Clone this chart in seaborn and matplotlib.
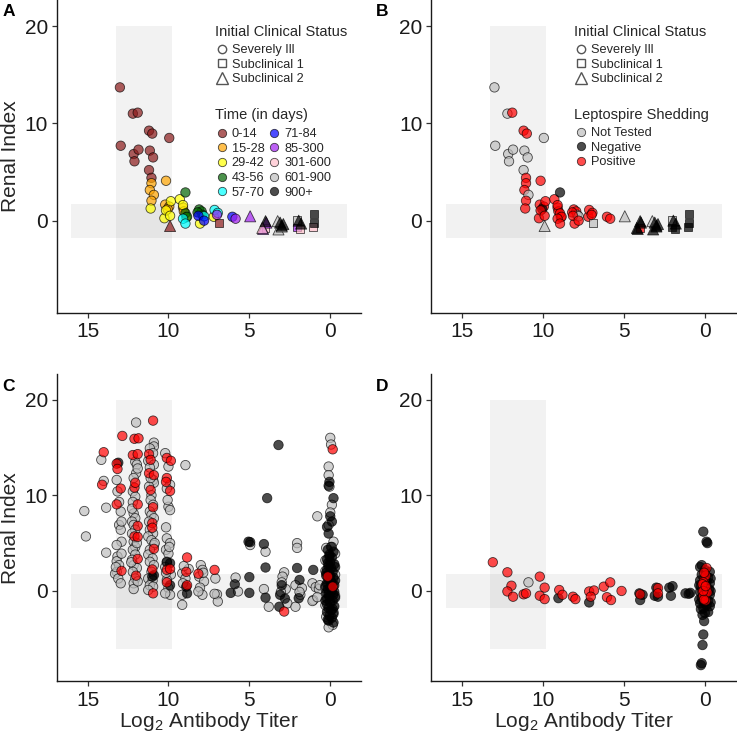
import matplotlib
matplotlib.use("Agg")
import pandas as pd
import matplotlib.pyplot as plt
import seaborn as sns
from matplotlib.lines import Line2D

# ── Categories ───────────────────────────────────────────────
status_levels = ["Severely Ill", "Subclinical 1", "Subclinical 2"]
time_levels = ["0-14", "15-28", "29-42", "43-56", "57-70",
               "71-84", "85-300", "301-600", "601-900", "900+"]
time_colors = ["#8B1A1A", "#FFA500", "#FFFF00", "#006400", "#00FFFF",
               "#0000FF", "#A020F0", "#FFC0CB", "#BEBEBE", "#000000"]
shed_levels = ["Not Tested", "Negative", "Positive"]
shed_colors = ["#BEBEBE", "#000000", "#FF0000"]

SI, S1, S2 = status_levels
NT, NEG, POS = shed_levels

# shaded reference bands (log2 titer range, renal index range)
vband_x = (13.25, 9.8)
vband_y = (-6.05, 20.0)
hband_x = (16.0, -1.05)
hband_y = (-1.75, 1.75)

# ── Panels A & B: (log2 titer, renal index, status, time, shedding) ──
ab_points = [
    (13.0, 13.7, SI, "0-14", NT), (12.95, 7.7, SI, "0-14", NT),
    (12.2, 11.0, SI, "0-14", NT), (11.9, 11.1, SI, "0-14", POS),
    (12.15, 6.85, SI, "0-14", NT), (12.1, 6.1, SI, "0-14", NT),
    (11.85, 7.3, SI, "0-14", NT), (11.2, 9.25, SI, "0-14", POS),
    (11.0, 8.95, SI, "0-14", POS), (11.15, 7.2, SI, "0-14", NT),
    (10.95, 6.5, SI, "0-14", NT), (11.2, 5.2, SI, "0-14", NT),
    (11.05, 4.4, SI, "0-14", POS), (9.95, 8.5, SI, "0-14", NT),
    (9.9, -0.55, S2, "0-14", NT), (6.9, -0.2, S1, "0-14", NT),
    (10.15, 4.1, SI, "15-28", POS), (11.05, 3.85, SI, "15-28", POS),
    (11.15, 3.15, SI, "15-28", POS), (10.9, 2.65, SI, "15-28", NT),
    (11.05, 2.05, SI, "15-28", POS), (10.2, 1.65, SI, "15-28", POS),
    (9.95, 1.45, SI, "15-28", POS), (10.05, 1.2, SI, "15-28", NEG),
    (9.1, 1.35, SI, "15-28", POS), (9.05, 0.95, SI, "15-28", POS),
    (11.1, 1.25, SI, "29-42", POS), (10.25, 0.25, SI, "29-42", POS),
    (9.85, 2.0, SI, "29-42", POS), (10.15, 1.05, SI, "29-42", POS),
    (9.9, 0.5, SI, "29-42", POS), (9.3, 2.2, SI, "29-42", POS),
    (9.1, 1.6, SI, "29-42", POS), (8.05, -0.3, SI, "29-42", POS),
    (7.2, 0.4, SI, "29-42", POS), (8.9, 0.35, SI, "29-42", POS),
    (8.95, 2.9, SI, "43-56", NEG), (8.95, 0.75, SI, "43-56", POS),
    (8.1, 1.15, SI, "43-56", POS), (7.95, 0.95, SI, "43-56", POS),
    (7.9, 0.6, SI, "43-56", NT), (8.2, 0.85, SI, "43-56", POS),
    (8.85, 0.4, SI, "43-56", POS),
    (9.1, 0.2, SI, "57-70", POS), (8.95, -0.3, SI, "57-70", POS),
    (7.15, 1.1, SI, "57-70", POS), (6.95, 0.8, SI, "57-70", POS),
    (7.8, 0.45, SI, "57-70", NT),
    (8.15, 0.5, SI, "71-84", POS), (7.8, 0.0, SI, "71-84", POS),
    (6.05, 0.4, SI, "71-84", POS),
    (5.85, 0.2, SI, "85-300", POS), (7.0, 0.6, SI, "85-300", POS),
    (4.95, 0.45, S2, "85-300", NT), (3.95, -0.2, S2, "85-300", NEG),
    (4.15, -0.85, S2, "85-300", NEG), (2.05, -0.7, S1, "85-300", NEG),
    (4.2, -0.75, S2, "301-600", NEG), (4.0, -0.75, S1, "301-600", POS),
    (1.85, -0.9, S1, "301-600", NEG), (1.05, -0.65, S1, "301-600", NEG),
    (3.2, -0.9, S2, "601-900", NEG), (3.0, -0.6, S2, "601-900", NEG),
    (2.05, 0.05, S1, "601-900", NT), (3.25, -0.05, S2, "601-900", NT),
    (3.1, -0.2, S2, "900+", NEG), (2.9, -0.35, S2, "900+", NEG),
    (1.95, 0.0, S2, "900+", NEG), (1.8, -0.3, S2, "900+", NEG),
    (1.0, 0.7, S1, "900+", NEG), (1.0, -0.2, S1, "900+", NEG),
    (3.0, -0.5, S2, "900+", NEG), (4.0, -0.05, S2, "900+", NEG),
]

# ── Panel C: (log2 titer, renal index) by shedding result ────
c_not_tested = [
    (15.2, 8.35), (15.1, 5.7),
    (14.15, 13.7), (14.0, 11.5), (13.85, 8.7), (13.85, 4.0),
    (13.2, 11.6), (13.15, 10.4), (12.95, 8.3), (13.05, 6.9), (12.95, 6.4),
    (12.9, 5.15), (13.2, 4.8), (13.15, 3.6), (13.2, 3.1), (13.05, 2.7),
    (13.2, 2.0), (13.3, 1.8), (13.1, 1.3), (12.95, 0.8), (12.9, 7.25),
    (13.05, 9.3), (13.25, 2.5), (12.9, 3.9),
    (12.0, 17.6), (12.05, 13.5), (11.95, 13.2), (12.0, 12.3), (12.15, 11.8),
    (12.2, 10.4), (12.05, 9.85), (12.2, 9.3), (12.15, 8.1), (12.05, 7.6),
    (12.25, 7.25), (12.15, 6.9), (12.05, 6.4), (12.25, 6.0), (12.15, 5.15),
    (12.05, 4.6), (12.2, 4.3), (12.05, 3.8), (12.25, 3.25), (12.15, 2.7),
    (11.95, 2.4), (12.2, 2.0), (12.05, 1.3), (12.15, 0.8), (12.15, 0.2),
    (11.9, 12.8), (12.25, 8.6), (11.95, 5.0), (12.3, 3.0), (11.9, 1.0),
    (10.9, 15.5), (10.9, 15.1), (11.15, 14.9), (10.95, 14.4), (11.25, 13.6),
    (10.9, 13.2), (11.15, 12.9), (10.95, 11.6), (10.9, 11.3), (11.2, 10.9),
    (11.05, 10.0), (11.1, 9.5), (10.95, 9.0), (11.15, 8.3), (11.05, 7.95),
    (10.9, 7.6), (11.2, 7.25), (11.15, 6.4), (10.95, 6.0), (11.25, 5.7),
    (11.05, 5.3), (10.9, 4.8), (11.15, 4.3), (11.25, 3.8), (10.98, 3.4),
    (11.15, 3.05), (10.9, 2.7), (11.05, 2.0), (11.25, 1.3), (10.98, 1.1),
    (11.15, 0.6), (10.95, 0.45), (11.25, 0.1), (11.1, 11.8), (10.85, 5.0),
    (10.2, 14.4), (10.0, 13.0), (9.9, 11.1), (10.1, 10.7), (10.0, 8.8),
    (9.9, 8.45), (10.15, 6.65), (10.1, 5.5), (9.9, 5.0), (10.15, 4.3),
    (10.0, 3.9), (10.1, 3.05), (10.2, 2.5), (9.85, 1.7), (10.1, 1.15),
    (10.0, 0.3), (9.9, -0.4), (10.2, -0.25), (10.05, 9.5), (9.95, 4.6),
    (10.15, 1.9),
    (8.95, 13.15), (9.15, 1.85), (8.95, 1.3), (9.1, 0.8), (9.15, -0.4),
    (9.15, -1.45), (8.75, 2.3), (9.05, 2.6),
    (8.0, 2.7), (7.9, 2.2), (8.1, 1.5), (7.8, 1.0), (8.05, 0.35),
    (7.9, -0.4), (8.15, -0.05), (7.85, 1.9),
    (7.1, 1.3), (7.0, -0.35), (6.95, -1.1), (7.15, -0.3),
    (5.85, 1.4), (5.7, -0.05), (4.95, 4.8),
    (4.0, 4.1), (4.1, 0.2), (3.8, -1.65),
    (2.85, 1.95), (2.95, 1.5), (2.75, 0.2), (3.05, -0.1), (2.65, -1.3),
    (3.0, 0.9),
    (2.05, 5.0), (2.05, 4.5), (2.15, 0.6), (1.85, -0.4), (1.75, 0.3),
    (2.15, -1.65), (1.9, -0.1),
    (0.8, 7.8), (1.1, 0.8), (0.9, 0.4), (0.7, 0.2), (1.05, -0.95),
    (1.1, -1.05), (0.8, -0.65), (0.65, 0.6),
    (0.0, 16.0), (-0.05, 15.3), (0.1, 13.0), (0.1, 12.1), (0.05, 10.9),
    (-0.1, 9.0), (0.0, 8.2), (0.1, 6.9), (-0.2, 5.15), (-0.1, 4.6),
    (0.25, 4.5), (0.3, 3.2), (-0.3, 1.7), (0.3, 0.3), (-0.3, -0.5),
    (0.3, -1.5), (-0.2, -2.2), (0.25, -2.7), (-0.15, -3.55), (0.1, -3.8),
    (0.3, 2.1), (-0.3, 3.9),
]
c_negative = [
    (3.2, 15.25), (3.9, 9.7), (5.05, 5.15), (4.95, 5.1), (4.1, 4.9),
    (4.0, 2.45), (5.0, 1.45), (5.9, 0.7), (6.15, -0.2), (5.0, -0.2),
    (4.0, -0.7), (3.1, -0.4), (3.0, 0.6), (2.8, -0.8), (3.15, -1.65),
    (2.05, 2.4), (1.9, 1.15), (1.95, -0.75), (1.05, 2.2),
    (9.9, 2.9), (10.1, 3.0), (10.9, 1.65), (9.9, 0.6), (8.9, 0.45),
    (8.85, -0.25), (13.1, 13.4), (11.0, 1.5),
    (0.05, 11.4), (0.1, 11.0), (-0.2, 9.7), (0.0, 7.8), (-0.1, 7.25),
    (0.2, 6.7), (0.1, 6.0), (-0.05, 4.6), (0.15, 4.3), (-0.2, 4.1),
    (0.05, 3.8), (-0.1, 3.5), (0.2, 3.3), (0.0, 3.0), (-0.25, 2.8),
    (0.1, 2.6), (-0.05, 2.4), (0.2, 2.2), (-0.15, 2.0), (0.05, 1.8),
    (0.25, 1.6), (-0.2, 1.4), (0.1, 1.2), (-0.05, 1.0), (0.2, 0.8),
    (-0.25, 0.6), (0.0, 0.4), (0.15, 0.2), (-0.1, 0.0), (0.25, -0.2),
    (-0.2, -0.4), (0.05, -0.6), (0.2, -0.8), (-0.15, -1.0), (0.0, -1.2),
    (0.2, -1.4), (-0.25, -1.6), (0.1, -1.8), (-0.05, -2.0), (0.2, -2.2),
    (-0.2, -2.4), (0.05, -2.6), (-0.1, -2.8), (0.15, -3.0), (-0.2, -3.3),
    (0.1, -3.1), (-0.25, -0.1), (0.3, 0.5), (-0.3, 1.1), (0.3, -1.0),
    (-0.3, -0.7), (0.0, 1.5), (0.1, -0.3), (-0.1, 0.7), (0.15, 2.9),
    (-0.15, -1.9), (0.05, 3.6), (0.25, 1.9), (-0.3, 2.5),
]
c_positive = [
    (10.95, 17.8), (12.85, 16.2), (12.1, 15.9), (11.85, 15.95), (14.0, 14.5),
    (12.2, 14.2), (11.9, 14.3), (11.2, 14.3), (11.1, 13.7), (13.2, 13.3),
    (13.15, 12.75), (10.1, 13.9), (9.85, 13.6), (11.2, 12.3), (10.9, 12.1),
    (10.1, 11.8), (10.15, 11.4), (14.1, 11.1), (12.95, 10.7), (12.1, 10.8),
    (12.05, 11.3), (11.1, 10.55), (9.9, 10.45), (13.2, 9.05), (11.9, 9.05),
    (10.95, 8.75), (11.0, 7.1), (11.0, 6.6), (11.9, 6.8), (12.1, 5.7),
    (11.9, 5.65), (10.9, 4.4), (11.9, 3.35), (8.85, 3.5), (12.9, 2.1),
    (11.0, 2.25), (10.1, 2.2), (9.9, 2.3), (12.0, 1.6), (8.9, 2.0),
    (7.15, 2.2), (8.15, 1.8), (10.1, 0.9), (8.85, 0.6), (10.95, -0.25),
    (2.85, -2.15), (-0.15, 14.8), (0.15, 1.5), (-0.15, 0.45),
]

# ── Panel D ──────────────────────────────────────────────────
d_not_tested = [(10.9, 0.9)]
d_negative = [
    (9.05, -0.75), (7.15, -1.2), (4.05, -0.25), (4.0, -0.95), (3.85, -0.4),
    (3.1, -0.5), (3.0, 0.35), (2.9, -0.6), (2.2, 0.35), (2.0, 0.5),
    (2.1, -0.5), (1.2, -0.25), (1.0, -0.3), (0.9, -0.2),
    (0.1, 6.2), (-0.1, 5.15), (-0.15, 5.0), (0.2, 2.7), (0.05, -3.15),
    (0.1, -4.55), (0.15, -5.65), (0.2, -7.55), (0.25, -7.75),
    (0.3, 2.5), (-0.3, 2.0), (0.2, 1.7), (-0.2, 1.4), (0.3, 1.1),
    (-0.3, 0.8), (0.25, 0.5), (-0.25, 0.2), (0.3, -0.1), (-0.3, -0.4),
    (0.2, -0.7), (-0.2, -1.0), (0.3, -1.3), (-0.3, -1.6), (0.25, -1.9),
    (-0.2, -2.2), (0.15, -2.5), (0.0, -2.3), (-0.1, -1.5), (0.1, -1.8),
    (0.0, 2.2), (-0.1, 1.0), (0.05, -1.2), (-0.35, 0.0), (0.35, 0.6),
    (0.35, -0.9), (-0.35, -1.2), (-0.35, 1.3),
]
d_positive = [
    (13.1, 3.0), (12.2, 1.95), (11.95, 0.55), (12.2, -0.05), (11.85, -0.6),
    (11.2, -0.35), (11.05, -0.25), (10.2, 1.5), (9.9, 0.35), (10.2, -0.5),
    (9.9, -0.85), (9.0, 0.1), (8.8, -0.4), (8.15, -0.6), (8.0, -0.85),
    (7.15, -0.05), (6.85, 0.05), (7.05, -0.6), (6.25, 0.45), (5.85, 0.9),
    (6.05, -0.65), (5.8, -0.95), (5.15, 0.0), (4.0, -0.35), (2.9, 0.3),
    (2.9, -0.25),
    (-0.1, 2.4), (0.05, 1.15), (0.1, 0.45), (0.15, -0.05), (0.05, -0.75),
    (-0.05, 1.6), (0.1, 0.9), (-0.1, 0.2), (0.0, -0.3), (0.1, -0.5),
    (-0.05, -1.0), (0.15, 0.7), (0.05, 1.9), (-0.15, -0.15), (0.05, -0.9),
    (0.1, 0.0), (-0.05, 0.5),
]

# ── Style ────────────────────────────────────────────────────
sns.set_theme(style="white")
plt.rcParams["font.family"] = ["Liberation Sans", "DejaVu Sans"]
plt.rcParams["mathtext.fontset"] = "custom"
plt.rcParams["mathtext.rm"] = "Liberation Sans"
plt.rcParams["mathtext.it"] = "Liberation Sans:italic"

ab = pd.DataFrame(ab_points, columns=["titer", "renal", "status", "time", "shed"])


def shed_frame(nt, neg, pos):
    parts = []
    for pts, lab in [(nt, NT), (neg, NEG), (pos, POS)]:
        d = pd.DataFrame(pts, columns=["titer", "renal"])
        d["shed"] = lab
        parts.append(d)
    return pd.concat(parts, ignore_index=True)


c_df = shed_frame(c_not_tested, c_negative, c_positive)
d_df = shed_frame(d_not_tested, d_negative, d_positive)

fig = plt.figure(figsize=(7.37, 7.33), dpi=100)
W, H = 737, 733


def make_ax(x0, x1, y_top, y_bot):
    return fig.add_axes([x0 / W, 1 - y_bot / H, (x1 - x0) / W, (y_bot - y_top) / H])


ax_a = make_ax(56.8, 361, 0.3, 312.6)
ax_b = make_ax(431.3, 735.7, 0.3, 312.6)
ax_c = make_ax(56.8, 361, 374.2, 681.4)
ax_d = make_ax(431.3, 735.7, 374.2, 681.4)

shape_markers = {SI: "o", S1: "s", S2: "^"}
shape_sizes = {SI: 46, S1: 32, S2: 64}
pt_kw = dict(edgecolor="black", linewidth=0.6, alpha=0.7, legend=False)

for ax in [ax_a, ax_b, ax_c, ax_d]:
    ax.fill_between(vband_x, vband_y[0], vband_y[1], color="black", alpha=0.05, lw=0, zorder=0)
    ax.fill_between(hband_x, hband_y[0], hband_y[1], color="black", alpha=0.05, lw=0, zorder=0)

for status in status_levels:
    sub = ab[ab["status"] == status]
    sns.scatterplot(data=sub, x="titer", y="renal", hue="time", hue_order=time_levels,
                    palette=time_colors, marker=shape_markers[status],
                    s=shape_sizes[status], ax=ax_a, **pt_kw)
    sns.scatterplot(data=sub, x="titer", y="renal", hue="shed", hue_order=shed_levels,
                    palette=shed_colors, marker=shape_markers[status],
                    s=shape_sizes[status], ax=ax_b, **pt_kw)

for ax, df in [(ax_c, c_df), (ax_d, d_df)]:
    sns.scatterplot(data=df, x="titer", y="renal", hue="shed", hue_order=shed_levels,
                    palette=shed_colors, s=46, ax=ax, **pt_kw)

for ax in [ax_a, ax_b, ax_c, ax_d]:
    ax.set_xlim(16.9, -1.9)
    ax.set_ylim(-9.45, 22.65)
    ax.set_xticks([15, 10, 5, 0])
    ax.set_yticks([0, 10, 20])
    sns.despine(ax=ax)
    for sp in ["left", "bottom"]:
        ax.spines[sp].set_color("#1a1a1a")
        ax.spines[sp].set_linewidth(1.0)
    ax.tick_params(axis="both", which="major", labelsize=15, length=3.5, width=0.9,
                   color="#333333", labelcolor="#1a1a1a", direction="out",
                   bottom=True, left=True)
    ax.tick_params(axis="x", pad=3.5)
    ax.tick_params(axis="y", pad=3)
    ax.set_xlabel("")
    ax.set_ylabel("")

ax_a.set_ylabel("Renal Index", fontsize=15, labelpad=3)
ax_c.set_ylabel("Renal Index", fontsize=15, labelpad=3)
ax_c.set_xlabel(r"Log$_\mathrm{2}$ Antibody Titer", fontsize=15, labelpad=0)
ax_d.set_xlabel(r"Log$_\mathrm{2}$ Antibody Titer", fontsize=15, labelpad=0)

# ── Legends ──────────────────────────────────────────────────
shape_handles = [
    Line2D([], [], ls="", marker="o", mfc="none", mec="#555555", ms=6.0, mew=1.0),
    Line2D([], [], ls="", marker="s", mfc="none", mec="#555555", ms=5.2, mew=1.0),
    Line2D([], [], ls="", marker="^", mfc="none", mec="#555555", ms=8.0, mew=1.0),
]
time_handles = [Line2D([], [], ls="", marker="o", mfc=c, mec="black", mew=0.6,
                       ms=6.0, alpha=0.7) for c in time_colors]
shed_handles = [Line2D([], [], ls="", marker="o", mfc=c, mec="black", mew=0.6,
                       ms=6.0, alpha=0.7) for c in shed_colors]

leg_kw = dict(loc="upper left", frameon=False, fontsize=9.2, title_fontsize=10.5,
              alignment="left", borderpad=0, labelspacing=0.2, handlelength=1.05,
              handletextpad=0.25, borderaxespad=0, bbox_transform=fig.transFigure)

legends = [
    fig.legend(shape_handles, status_levels, title="Initial Clinical Status",
               bbox_to_anchor=(215 / W, 1 - 24.5 / H), **leg_kw),
    fig.legend(time_handles, time_levels, title="Time (in days)", ncol=2,
               columnspacing=0.25, bbox_to_anchor=(215 / W, 1 - 108.5 / H), **leg_kw),
    fig.legend(shape_handles, status_levels, title="Initial Clinical Status",
               bbox_to_anchor=(574.5 / W, 1 - 24.5 / H), **leg_kw),
    fig.legend(shed_handles, shed_levels, title="Leptospire Shedding",
               bbox_to_anchor=(574.5 / W, 1 - 107.5 / H), **leg_kw),
]
for leg in legends:
    leg._legend_box.sep = 4.2   # a bit more room under each legend title

for lab, x, y in [("A", 3, 4), ("B", 376, 4), ("C", 2, 379), ("D", 376, 379)]:
    fig.text(x / W, 1 - y / H, lab, fontsize=12.5, fontweight="bold",
             ha="left", va="top", color="black")

plt.savefig("out.png", dpi=100)
